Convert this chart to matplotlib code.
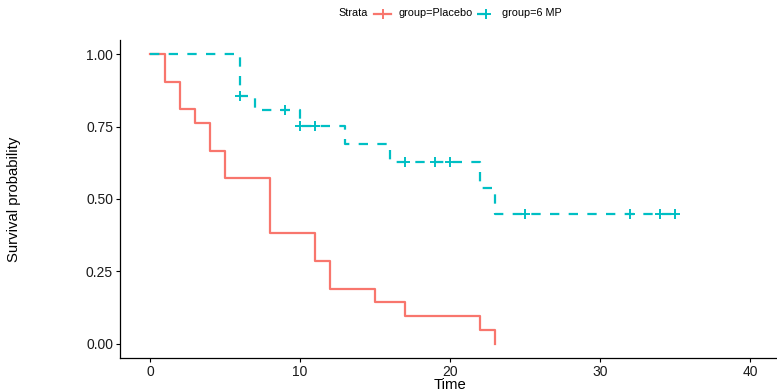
import matplotlib.pyplot as plt
from matplotlib.lines import Line2D

plt.rcParams['font.family'] = ['Liberation Sans', 'DejaVu Sans']

# Kaplan-Meier steps
placebo_t = [0, 1, 2, 3, 4, 5, 8, 11, 12, 15, 17, 22, 23]
placebo_s = [1.0, 0.905, 0.810, 0.762, 0.667, 0.571, 0.381, 0.286, 0.190, 0.143, 0.095, 0.048, 0.0]

mp_t = [0, 6, 7, 10, 13, 16, 22, 23, 35]
mp_s = [1.0, 0.857, 0.807, 0.753, 0.690, 0.627, 0.538, 0.448, 0.448]

# censored observations (6 MP)
mp_cens_t = [6, 9, 10, 11, 17, 19, 20, 25, 32, 34, 35]
mp_cens_s = [0.857, 0.807, 0.753, 0.753, 0.627, 0.627, 0.627, 0.448, 0.448, 0.448, 0.448]

strata = ['group=Placebo', 'group=6 MP']
red = '#F8766D'
teal = '#00BFC4'
dash = (0, (4.2, 4.2))

W, H = 777, 392
fig = plt.figure(figsize=(W / 100, H / 100), dpi=100)
ax = fig.add_axes([120 / W, 34 / H, 660 / W, 318 / H])

ax.step(placebo_t, placebo_s, where='post', color=red, lw=1.6)
ax.step(mp_t, mp_s, where='post', color=teal, lw=1.6, linestyle=dash)
ax.plot(mp_cens_t, mp_cens_s, '+', color=teal, ms=7, mew=1.4)

ax.set_xlim(-2, 42)
ax.set_ylim(-0.05, 1.05)
ax.set_xticks([0, 10, 20, 30, 40])
ax.set_yticks([0, 0.25, 0.5, 0.75, 1.0])
ax.set_yticklabels(['0.00', '0.25', '0.50', '0.75', '1.00'])
ax.tick_params(labelsize=10, length=3, width=0.8, colors='black', labelcolor='#1a1a1a', pad=2)
for side in ['top', 'right']:
    ax.spines[side].set_visible(False)
for side in ['left', 'bottom']:
    ax.spines[side].set_linewidth(0.9)

fig.text(14 / W, 1 - 199 / H, 'Survival probability', rotation=90,
         ha='center', va='center', fontsize=10.7)
fig.text(450 / W, 1 - 385 / H, 'Time', ha='center', va='center', fontsize=10.7)

# legend drawn by hand across the top
ly = 1 - 13.5 / H
fig.text(338 / W, ly, 'Strata', ha='left', va='center', fontsize=7.8)
for x0, x1, xt, col, ls, lab in [(374, 391, 398, red, '-', strata[0]),
                                 (477, 495, 502, teal, dash, strata[1])]:
    fig.add_artist(Line2D([x0 / W, x1 / W], [ly, ly], color=col, lw=1.6, linestyle=ls,
                          transform=fig.transFigure))
    fig.add_artist(Line2D([(x0 + x1) / 2 / W], [ly], color=col, marker='+', ms=7,
                          mew=1.4, transform=fig.transFigure))
    fig.text(xt / W, ly, lab, ha='left', va='center', fontsize=7.8)

fig.savefig('out.png', dpi=100)
